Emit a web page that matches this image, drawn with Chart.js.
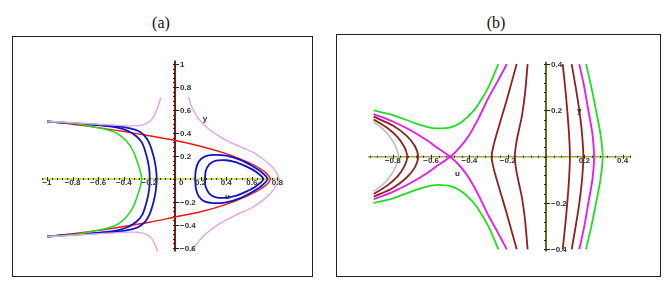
<!DOCTYPE html>
<html>
<head>
<meta charset="utf-8">
<script src="https://cdn.jsdelivr.net/npm/chart.js@4.4.1/dist/chart.umd.min.js"></script>
<style>
  body { margin: 0; background: #fff; width: 669px; height: 283px; position: relative; overflow: hidden; }
  .title { position: absolute; top: 14px; font-family: "Liberation Serif", serif; font-size: 16px; color: #111; transform: translateX(-50%); }
  .frame { position: absolute; border: 1px solid #222; }
  .frame canvas { display: block; }
</style>
</head>
<body>
<div class="title" style="left:161px">(a)</div>
<div class="title" style="left:496px">(b)</div>
<div class="frame" style="left:12px;top:36px;width:299px;height:239px"><canvas id="chartA"></canvas></div>
<div class="frame" style="left:336px;top:34px;width:323px;height:241px"><canvas id="chartB"></canvas></div>
<script>
// ---- panel (a) : points are [u, y]
const aPinkTopLeft = [[-1,0.5],[-0.8,0.49],[-0.6,0.476],[-0.45,0.466],[-0.33,0.462],[-0.26,0.468],[-0.21,0.49],[-0.175,0.53],[-0.148,0.59],[-0.127,0.65],[-0.11,0.71]];
const aPinkBotLeft = [[-1,-0.5],[-0.8,-0.49],[-0.6,-0.476],[-0.45,-0.466],[-0.33,-0.462],[-0.26,-0.468],[-0.21,-0.49],[-0.178,-0.525],[-0.155,-0.575],[-0.135,-0.63]];
const aPinkRight = [[0.105,0.715],[0.13,0.63],[0.165,0.555],[0.21,0.49],[0.27,0.43],[0.34,0.375],[0.42,0.325],[0.5,0.285],[0.6,0.237],[0.68,0.18],[0.75,0.115],[0.795,0.05],[0.81,0],
                    [0.795,-0.05],[0.75,-0.12],[0.68,-0.19],[0.6,-0.25],[0.5,-0.3],[0.42,-0.345],[0.34,-0.395],[0.27,-0.45],[0.21,-0.51],[0.165,-0.57],[0.12,-0.63]];
const aGreen = [[-1,0.5],[-0.8,0.485],[-0.66,0.458],[-0.53,0.428],[-0.45,0.395],[-0.38,0.33],[-0.33,0.25],[-0.295,0.15],[-0.27,0.06],[-0.26,0],
                [-0.27,-0.06],[-0.295,-0.15],[-0.33,-0.25],[-0.38,-0.33],[-0.45,-0.395],[-0.53,-0.428],[-0.66,-0.458],[-0.8,-0.485],[-1,-0.5]];
const aBlueLeft1 = [[-1,0.5],[-0.75,0.48],[-0.55,0.462],[-0.45,0.446],[-0.37,0.42],[-0.3,0.37],[-0.255,0.31],[-0.222,0.2],[-0.203,0.1],[-0.197,0],
                    [-0.203,-0.1],[-0.222,-0.2],[-0.255,-0.31],[-0.3,-0.37],[-0.37,-0.42],[-0.45,-0.446],[-0.55,-0.462],[-0.75,-0.48],[-1,-0.5]];
const aBlueLeft2 = [[-1,0.5],[-0.75,0.482],[-0.55,0.467],[-0.43,0.455],[-0.35,0.44],[-0.29,0.42],[-0.24,0.38],[-0.2,0.31],[-0.168,0.2],[-0.15,0.1],[-0.143,0],
                    [-0.15,-0.1],[-0.168,-0.2],[-0.2,-0.31],[-0.24,-0.38],[-0.29,-0.42],[-0.35,-0.44],[-0.43,-0.455],[-0.55,-0.467],[-0.75,-0.482],[-1,-0.5]];
const aLoopOuter = [[0.157,0],[0.163,0.08],[0.185,0.15],[0.23,0.195],[0.3,0.21],[0.4,0.203],[0.5,0.17],[0.6,0.115],[0.67,0.065],[0.722,0],
                    [0.67,-0.065],[0.6,-0.115],[0.5,-0.17],[0.4,-0.203],[0.3,-0.21],[0.23,-0.195],[0.185,-0.15],[0.163,-0.08],[0.157,0]];
const aLoopInner = [[0.234,0],[0.24,0.07],[0.27,0.13],[0.32,0.16],[0.4,0.163],[0.48,0.145],[0.56,0.108],[0.63,0.065],[0.69,0],
                    [0.63,-0.065],[0.56,-0.108],[0.48,-0.145],[0.4,-0.163],[0.32,-0.16],[0.27,-0.13],[0.24,-0.07],[0.234,0]];
const aRed = [[-1,0.5],[-0.8,0.476],[-0.6,0.447],[-0.4,0.413],[-0.2,0.376],[0,0.335],[0.2,0.285],[0.4,0.22],[0.55,0.155],[0.65,0.1],[0.71,0.055],[0.745,0],
              [0.71,-0.055],[0.65,-0.1],[0.55,-0.155],[0.4,-0.22],[0.2,-0.285],[0,-0.33],[-0.2,-0.376],[-0.4,-0.413],[-0.6,-0.447],[-0.8,-0.476],[-1,-0.5]];

const aXTicks = [-1, -0.8, -0.6, -0.4, -0.2, 0, 0.2, 0.4, 0.6, 0.8];
const aXTickLabels = ['\u22121', '\u22120.8', '\u22120.6', '\u22120.4', '\u22120.2', '0', '0.2', '0.4', '0.6', '0.8'];
const aYTicks = [-0.6, -0.4, -0.2, 0.2, 0.4, 0.6, 0.8, 1];
const aYTickLabels = ['\u22120.6', '\u22120.4', '\u22120.2', '0.2', '0.4', '0.6', '0.8', '1'];

// ---- panel (b)
const bGray = [[-0.9,0.15],[-0.85,0.118],[-0.81,0.08],[-0.783,0.04],[-0.77,0],[-0.783,-0.04],[-0.81,-0.08],[-0.85,-0.118],[-0.9,-0.15]];
const bBrown1 = [[-0.9,0.161],[-0.83,0.125],[-0.775,0.085],[-0.74,0.042],[-0.725,0],[-0.74,-0.042],[-0.775,-0.085],[-0.83,-0.125],[-0.9,-0.161]];
const bBrown2 = [[-0.9,0.173],[-0.8,0.135],[-0.73,0.092],[-0.685,0.046],[-0.668,0],[-0.685,-0.046],[-0.73,-0.092],[-0.8,-0.135],[-0.9,-0.173]];
const bMagenta1 = [[-0.9,0.184],[-0.8,0.152],[-0.71,0.115],[-0.62,0.07],[-0.57,0.04],[-0.5,0],[-0.45,-0.04],[-0.4,-0.095],[-0.35,-0.17],[-0.3,-0.255],[-0.25,-0.33],[-0.205,-0.4]];
const bMagenta2 = [[-0.9,-0.184],[-0.8,-0.152],[-0.71,-0.115],[-0.62,-0.07],[-0.57,-0.04],[-0.5,0],[-0.45,0.04],[-0.4,0.095],[-0.35,0.17],[-0.3,0.255],[-0.25,0.33],[-0.205,0.4]];
const bGreenTop = [[-0.9,0.2],[-0.8,0.18],[-0.675,0.142],[-0.6,0.125],[-0.56,0.122],[-0.5,0.127],[-0.45,0.145],[-0.4,0.18],[-0.36,0.218],[-0.3,0.302],[-0.249,0.4]];
const bGreenBot = [[-0.9,-0.2],[-0.8,-0.18],[-0.675,-0.142],[-0.6,-0.125],[-0.56,-0.122],[-0.5,-0.127],[-0.45,-0.145],[-0.4,-0.18],[-0.36,-0.218],[-0.3,-0.302],[-0.249,-0.4]];
const bBrown3 = [[-0.153,0.4],[-0.18,0.32],[-0.205,0.245],[-0.232,0.17],[-0.257,0.1],[-0.275,0.045],[-0.284,0],
                 [-0.275,-0.045],[-0.257,-0.1],[-0.232,-0.17],[-0.205,-0.245],[-0.18,-0.32],[-0.153,-0.4]];
const bBrown4 = [[-0.096,0.4],[-0.11,0.27],[-0.125,0.18],[-0.14,0.12],[-0.155,0.06],[-0.163,0],
                 [-0.155,-0.06],[-0.14,-0.12],[-0.125,-0.18],[-0.11,-0.27],[-0.096,-0.4]];
const bArcY = [0.4, 0.3, 0.2, 0.1, 0, -0.1, -0.2, -0.3, -0.4];
const bBrown5U = [0.087, 0.1, 0.111, 0.12, 0.125, 0.12, 0.111, 0.1, 0.087];
const bBrown6U = [0.134, 0.155, 0.174, 0.188, 0.195, 0.188, 0.174, 0.155, 0.134];
const bMagenta3U = [0.174, 0.2, 0.221, 0.242, 0.251, 0.242, 0.221, 0.2, 0.174];
const bGreen3U = [0.209, 0.237, 0.261, 0.284, 0.296, 0.284, 0.261, 0.237, 0.209];

const bXTicks = [-0.8, -0.6, -0.4, -0.2, 0.2, 0.4];
const bXTickLabels = ['\u22120.8', '\u22120.6', '\u22120.4', '\u22120.2', '0.2', '0.4'];
const bYTicks = [-0.4, -0.2, 0.2, 0.4];
const bYTickLabels = ['\u22120.4', '\u22120.2', '0.2', '0.4'];

// Maple-style axes crossing at the origin, drawn with the chart's own scales
const mapleAxes = {
    id: 'mapleAxes',
    beforeDatasetsDraw(chart, args, o) {
        const ctx = chart.ctx;
        const sx = chart.scales.x, sy = chart.scales.y;
        const x0 = sx.getPixelForValue(0), y0 = sy.getPixelForValue(0);
        ctx.save();
        ctx.lineWidth = o.xWidth;
        ctx.strokeStyle = o.xColor;
        ctx.beginPath();
        ctx.moveTo(sx.getPixelForValue(o.xExtent[0]), y0);
        ctx.lineTo(sx.getPixelForValue(o.xExtent[1]), y0);
        ctx.stroke();
        ctx.lineWidth = o.yWidth;
        ctx.strokeStyle = o.yColor;
        ctx.beginPath();
        ctx.moveTo(x0, sy.getPixelForValue(o.yExtent[0]));
        ctx.lineTo(x0, sy.getPixelForValue(o.yExtent[1]));
        ctx.stroke();

        // minor ticks every 0.04 along both axes
        const minor = (lo, hi) => {
            const step = 0.04, out = [];
            for (let v = Math.ceil(lo / step) * step; v <= hi + 1e-9; v += step) out.push(v);
            return out;
        };
        ctx.strokeStyle = '#222';
        ctx.lineWidth = 1;
        ctx.beginPath();
        minor(o.xExtent[0], o.xExtent[1]).forEach(v => {
            const p = Math.round(sx.getPixelForValue(v)) + 0.5;
            ctx.moveTo(p, y0 - 1); ctx.lineTo(p, y0 + 1);
        });
        o.xTicks.forEach(v => {
            const p = Math.round(sx.getPixelForValue(v)) + 0.5;
            ctx.moveTo(p, y0 - 2); ctx.lineTo(p, y0 + 2);
        });
        minor(o.yExtent[0], o.yExtent[1]).forEach(v => {
            const p = Math.round(sy.getPixelForValue(v)) + 0.5;
            ctx.moveTo(x0 - 2, p); ctx.lineTo(x0, p);
        });
        o.yTicks.forEach(v => {
            const p = Math.round(sy.getPixelForValue(v)) + 0.5;
            ctx.moveTo(x0, p); ctx.lineTo(x0 + 4, p);
        });
        ctx.stroke();
        ctx.restore();
    },
    afterDatasetsDraw(chart, args, o) {
        const ctx = chart.ctx;
        const sx = chart.scales.x, sy = chart.scales.y;
        const x0 = sx.getPixelForValue(0), y0 = sy.getPixelForValue(0);
        ctx.save();
        ctx.font = 'bold 8px "Liberation Sans", Arial, sans-serif';
        ctx.fillStyle = '#333';
        ctx.textBaseline = 'middle';
        o.xTicks.forEach((v, i) => {
            if (v === 0) {
                ctx.textAlign = 'left';
                ctx.fillText(o.xLabels[i], x0 + 4, y0 + 4);
            } else {
                ctx.textAlign = 'center';
                ctx.fillText(o.xLabels[i], sx.getPixelForValue(v), y0 + 4);
            }
        });
        ctx.textAlign = 'left';
        o.yTicks.forEach((v, i) => {
            ctx.fillText(o.yLabels[i], x0 + 5, sy.getPixelForValue(v) + 0.5);
        });
        ctx.textAlign = 'center';
        o.names.forEach(n => {
            ctx.fillText(n.text, sx.getPixelForValue(n.x), sy.getPixelForValue(n.y));
        });
        ctx.restore();
    }
};

function curve(points, color, width) {
    return {
        data: points.map(p => ({ x: p[0], y: p[1] })),
        showLine: true,
        borderColor: color,
        borderWidth: width,
        pointRadius: 0,
        tension: 0.3,
        fill: false
    };
}

function arc(us, ys, color, width) {
    return curve(us.map((u, i) => [u, ys[i]]), color, width);
}

function makeChart(id, xRange, yRange, datasets, axes) {
    return new Chart(document.getElementById(id), {
        type: 'scatter',
        data: { datasets: datasets },
        options: {
            animation: false,
            responsive: true,
            maintainAspectRatio: false,
            layout: { padding: 0 },
            events: [],
            plugins: {
                legend: { display: false },
                tooltip: { enabled: false },
                mapleAxes: axes
            },
            scales: {
                x: { type: 'linear', display: false, min: xRange[0], max: xRange[1] },
                y: { type: 'linear', display: false, min: yRange[0], max: yRange[1] }
            }
        },
        plugins: [mapleAxes]
    });
}

const PLUM = '#dfa6df', GREEN = '#22dd22', BLUE = '#1212cc', RED = '#ee1515';
const MAGENTA = '#ee14ee', BROWN = '#8e2020', GRAY = '#bdbdbd';

makeChart('chartA', [-1.2656, 1.0703], [-0.8435, 1.2348], [
    curve(aPinkTopLeft, PLUM, 1.4),
    curve(aPinkBotLeft, PLUM, 1.4),
    curve(aPinkRight, PLUM, 1.4),
    curve(aGreen, GREEN, 1.6),
    curve(aBlueLeft1, BLUE, 1.8),
    curve(aBlueLeft2, BLUE, 1.8),
    curve(aLoopOuter, BLUE, 1.8),
    curve(aLoopInner, BLUE, 1.8),
    curve(aRed, RED, 1.4)
], {
    xTicks: aXTicks, xLabels: aXTickLabels,
    yTicks: aYTicks, yLabels: aYTickLabels,
    xExtent: [-1.04, 0.82], yExtent: [-0.63, 1.03],
    xColor: '#cccc10', xWidth: 1.6, yColor: '#8b1414', yWidth: 2,
    names: [{ text: 'y', x: 0.234, y: 0.52 }, { text: 'u', x: 0.41, y: -0.154 }]
});

makeChart('chartB', [-1.0914, 0.5953], [-0.5153, 0.5257], [
    curve(bGray, GRAY, 1.6),
    curve(bBrown1, BROWN, 1.8),
    curve(bBrown2, BROWN, 1.8),
    curve(bMagenta1, MAGENTA, 1.8),
    curve(bMagenta2, MAGENTA, 1.8),
    curve(bGreenTop, GREEN, 1.8),
    curve(bGreenBot, GREEN, 1.8),
    curve(bBrown3, BROWN, 1.8),
    curve(bBrown4, BROWN, 1.8),
    arc(bBrown5U, bArcY, BROWN, 1.8),
    arc(bBrown6U, bArcY, BROWN, 1.8),
    arc(bMagenta3U, bArcY, MAGENTA, 1.8),
    arc(bGreen3U, bArcY, GREEN, 1.8)
], {
    xTicks: bXTicks, xLabels: bXTickLabels,
    yTicks: bYTicks, yLabels: bYTickLabels,
    xExtent: [-0.93, 0.44], yExtent: [-0.41, 0.41],
    xColor: '#a8a830', xWidth: 1.5, yColor: '#6e6a1e', yWidth: 2,
    names: [{ text: 'y', x: 0.174, y: 0.2 }, { text: 'u', x: -0.463, y: -0.075 }]
});
</script>
</body>
</html>
